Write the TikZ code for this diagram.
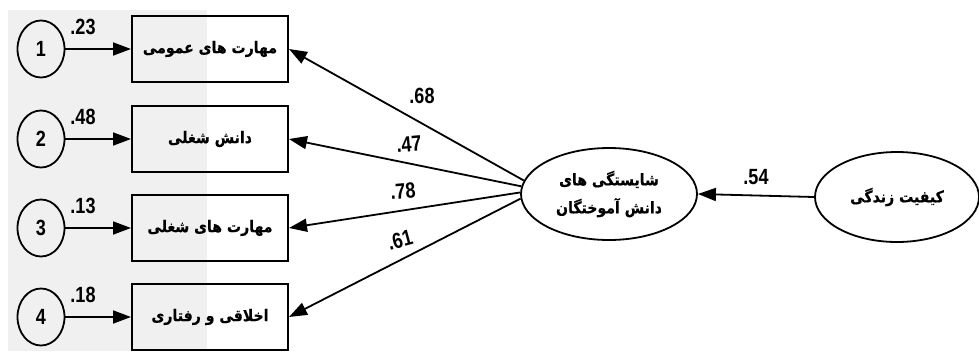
\documentclass[tikz,border=0pt]{standalone}
\usepackage{fontspec}
\usetikzlibrary{shapes.geometric,arrows.meta}
\TeXXeTstate=1
\newfontfamily\labfont[FakeStretch=0.82]{Liberation Sans Bold}
\newfontfamily\fafont[Script=Arabic,FakeStretch=0.88,FakeBold=0.6]{DejaVu Sans Bold}
\definecolor{bggray}{RGB}{240,240,240}
\begin{document}
\begin{tikzpicture}[x=1pt,y=-1pt,
  lab/.style={font=\labfont\fontsize{22}{24}\selectfont, inner sep=0pt},
  errnode/.style={draw, line width=1.8pt, ellipse, minimum width=47pt, minimum height=57pt, inner sep=0pt, font=\labfont\fontsize{22}{24}\selectfont},
  obsbox/.style={draw, line width=2pt, rectangle, minimum width=156pt, minimum height=66pt, inner sep=0pt, font=\fafont\fontsize{16}{28}\selectfont},
  latent/.style={draw, line width=1.8pt, ellipse, inner sep=0pt, align=center, font=\fafont\fontsize{16}{28}\selectfont},
  arr/.style={line width=1.8pt, -{Triangle[length=18pt,width=13pt]}}
]
\useasboundingbox (0,0) rectangle (979,351);
\fill[bggray] (8,10) rectangle (207,351);

\node[errnode] (c1) at (41,49) {1};
\node[errnode] (c2) at (41,139) {2};
\node[errnode] (c3) at (41,228) {3};
\node[errnode] (c4) at (41,317) {4};

\node[obsbox] (b1) at (210,49) {\beginR مهارت های عمومی\endR};
\node[obsbox] (b2) at (210,139) {\beginR دانش شغلی\endR};
\node[obsbox] (b3) at (210,228) {\beginR مهارت های شغلی\endR};
\node[obsbox] (b4) at (210,317) {\beginR اخلاقی و رفتاری\endR};

\node[latent, minimum width=176pt, minimum height=92pt] (mid) at (609,194)
  {\beginR شایستگی های\endR\\\beginR دانش آموختگان\endR};
\node[latent, minimum width=164pt, minimum height=90pt] (qol) at (897,197)
  {\beginR کیفیت زندگی\endR};

\draw[arr] (c1) -- (b1);
\draw[arr] (c2) -- (b2);
\draw[arr] (c3) -- (b3);
\draw[arr] (c4) -- (b4);

\draw[arr] (mid.171) -- (b1.east);
\draw[arr] (mid.175) -- (b2.east);
\draw[arr] (mid.179) -- (b3.east);
\draw[arr] (mid.183) -- (b4.east);
\draw[arr] (qol.west) -- (mid.east);

\node[lab] (l1) at (83,27) {.23};
\node[lab] (l2) at (83,117) {.48};
\node[lab] (l3) at (83,206) {.13};
\node[lab] (l4) at (83,295) {.18};
\node[lab] (l68) at (422,96) {.68};
\node[lab, rotate=5] (l47) at (409,144) {.47};
\node[lab, rotate=5] (l78) at (403,191) {.78};
\node[lab, rotate=15] (l61) at (400,240) {.61};
\node[lab] (l54) at (756,177) {.54};
\end{tikzpicture}
\end{document}
